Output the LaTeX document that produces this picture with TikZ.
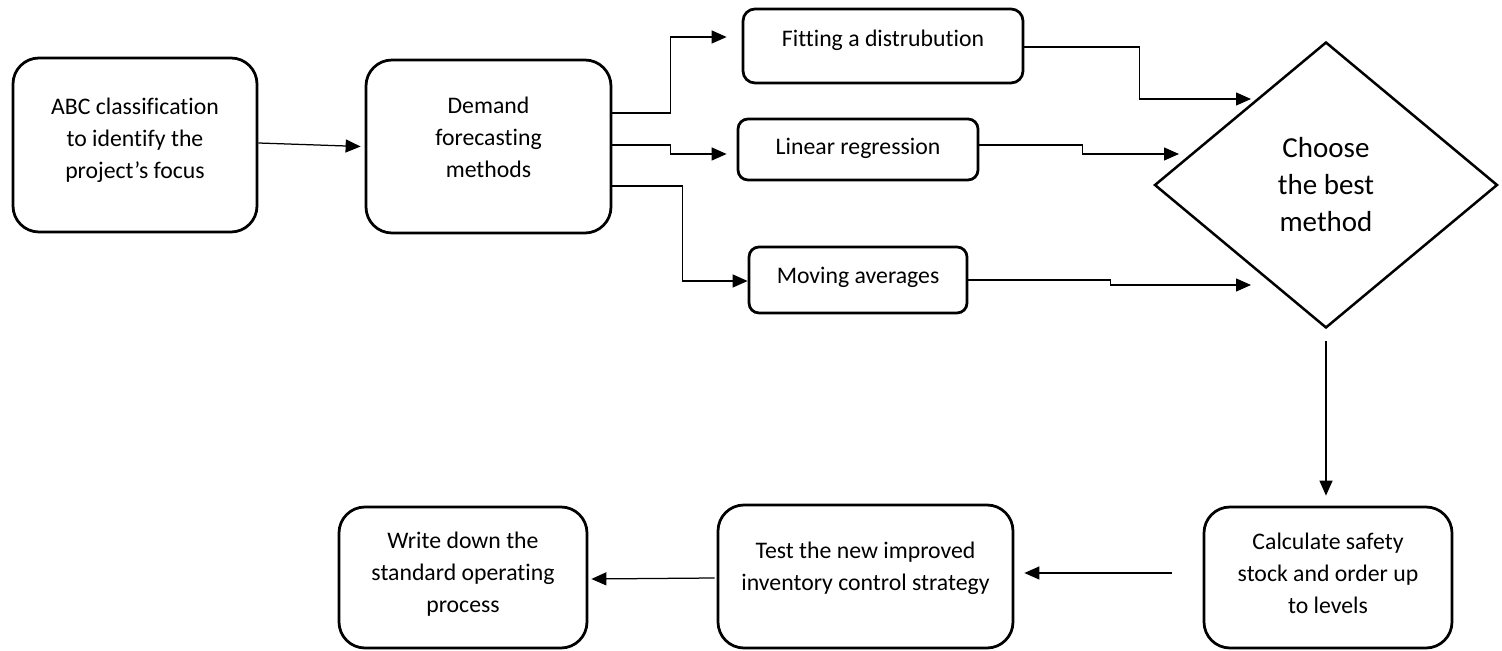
\documentclass[tikz,border=0pt]{standalone}
\usepackage{fontspec}
\setmainfont{Carlito}[Ligatures={NoCommon}]
\usetikzlibrary{arrows.meta,shapes.geometric,calc}
\newlength\unitpx
\setlength\unitpx{0.4pt}
\begin{document}
\begin{tikzpicture}[x=0.4pt,y=-0.4pt,
  stepbox/.style={draw,line width=1.1pt,rounded corners=#1,inner sep=0pt},
  stepbox/.default=26\unitpx,
  label text/.style={align=center,inner sep=0pt,font=\fontsize{9.5pt}{12.8pt}\selectfont},
  decision/.style={diamond,draw,line width=1pt,inner sep=0pt,
    minimum width=343\unitpx,minimum height=286\unitpx,
    align=center,font=\fontsize{11.6pt}{14.8pt}\selectfont},
  conn/.style={line width=0.5pt,-{Triangle[length=6pt,width=5.2pt]}}]
\useasboundingbox[fill=white] (0,0) rectangle (1502,651);

% process boxes
\node[stepbox,minimum width=244\unitpx,minimum height=174\unitpx] (abc) at (135,145) {};
\node[label text] (abcT) at (135,140) {ABC classification\\to identify the\\project’s focus};

\node[stepbox,minimum width=245\unitpx,minimum height=173\unitpx] (dem) at (488.5,146.5) {};
\node[label text] (demT) at (488.5,137) {Demand\\forecasting\\methods};

\node[stepbox=12\unitpx,minimum width=280\unitpx,minimum height=74\unitpx] (fit) at (883,46) {};
\node[label text] (fitT) at (883,40) {Fitting a distrubution};

\node[stepbox=10\unitpx,minimum width=240\unitpx,minimum height=61\unitpx] (lin) at (858,149.5) {};
\node[label text] (linT) at (858,148) {Linear regression};

\node[stepbox=10\unitpx,minimum width=218\unitpx,minimum height=66\unitpx] (mov) at (858,280) {};
\node[label text] (movT) at (858,277) {Moving averages};

\node[decision] (dia) at (1326,185) {Choose\\the best\\method};

\node[stepbox,minimum width=248\unitpx,minimum height=141\unitpx] (calc) at (1328,577.5) {};
\node[label text] (calcT) at (1328,573) {Calculate safety\\stock and order up\\to levels};

\node[stepbox,minimum width=295\unitpx,minimum height=143\unitpx] (test) at (865.5,576.5) {};
\node[label text] (testT) at (865.5,568) {Test the new improved\\inventory control strategy};

\node[stepbox,minimum width=248\unitpx,minimum height=141\unitpx] (write) at (463,577.5) {};
\node[label text] (writeT) at (463,574) {Write down the\\standard operating\\process};

% connectors
\draw[conn] ($(abc.east)+(0,-2)$) -- ($(dem.west)+(-4,0)$);

\draw[conn] ($(dem.east)+(0,-33.5)$) -- ++(58,0) |- ($(fit.west)+(-15,-9)$);
\draw[conn] ($(dem.east)+(0,-1.5)$) -- ++(58,0) |- ($(lin.west)+(-10,4.5)$);
\draw[conn] ($(dem.east)+(0,39.5)$) -- ++(70,0) |- ($(mov.west)+(0,1)$);

\draw[conn] ($(fit.east)+(0,1)$) -- ++(115,0) |- ($(dia.center)+(-75,-86)$);
\draw[conn] ($(lin.east)+(0,-4.5)$) -- ++(103,0) |- ($(dia.center)+(-147,-31)$);
\draw[conn] (mov.east) -- ++(142,0) |- ($(dia.center)+(-75,100)$);

\draw[conn] ($(dia.south)+(0,12)$) -- ($(calc.north -| dia.south)+(0,-10)$);
\draw[conn] ($(calc.west)+(-31,-4.5)$) -- ($(test.east)+(10,-3.5)$);
\draw[conn] ($(test.west)+(-2,1.5)$) -- ($(write.east)+(3,1.5)$);
\end{tikzpicture}
\end{document}
